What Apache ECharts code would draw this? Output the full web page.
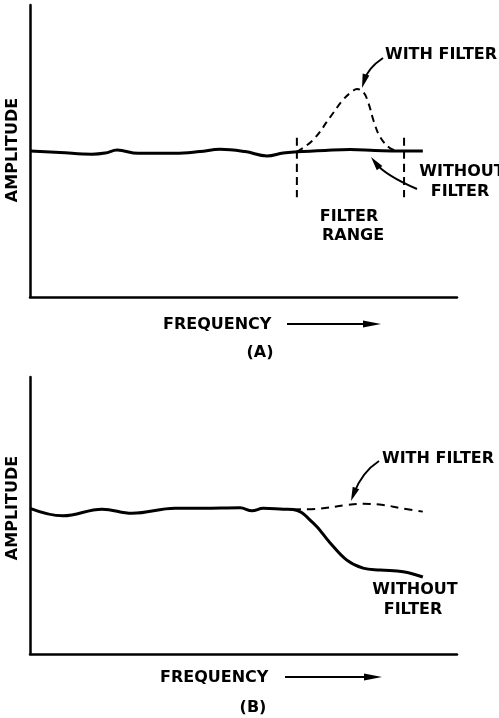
<!DOCTYPE html>
<html>
<head>
<meta charset="utf-8">
<script src="https://cdn.jsdelivr.net/npm/echarts@6/dist/echarts.min.js"></script>
<style>
  html, body { margin: 0; background: #fff; }
  #chart { width: 499px; height: 718px; }
</style>
</head>
<body>
<div id="chart"></div>
<script>
// panel (A) - frequency / amplitude in arbitrary units (0..100)
const freqA_without = [0, 7, 14.5, 17.6, 20.4, 25.3, 34, 39.8, 44.5, 50.4, 55.5, 59.3, 62.5, 69.1, 74.9, 80.8, 86.7, 92]
const ampA_without = [50, 49.5, 48.9, 49.3, 50.3, 49.2, 49.2, 49.8, 50.6, 49.8, 48.3, 49.3, 49.7, 50.2, 50.5, 50.2, 50, 50]
const freqA_with = [62.5, 66.3, 70.3, 73.3, 75.2, 76.6, 78.1, 79.3, 80.5, 82, 84.3, 86.7]
const ampA_with = [49.7, 53.8, 61.6, 67.5, 70.1, 71.2, 70.1, 66.2, 60.2, 54.8, 51, 50]
const filterRange = [62.5, 87.6]
const filterRangeAmp = [54.5, 34.2]

// panel (B)
const freqB_without = [0, 7.7, 16.9, 23.9, 34, 40.5, 49.2, 52, 54.6, 59.3, 61.6, 66.3, 70.3, 74.2, 78, 82, 87.4, 92]
const ampB_without = [52.6, 49.9, 52.3, 50.8, 52.6, 52.6, 52.8, 51.7, 52.6, 52.3, 52.2, 47.3, 40.1, 33.9, 31, 30.3, 29.7, 27.8]
const freqB_with = [61.6, 67.9, 74.2, 78, 82.7, 86.7, 92]
const ampB_with = [52.2, 52.5, 53.8, 54.2, 53.8, 52.7, 51.4]

const zip = (xs, ys) => xs.map((x, i) => [x, ys[i]])

const FONT = 'bold 16px "DejaVu Sans"'
const axisStyle = { show: true, onZero: false, lineStyle: { color: '#000', width: 2.5 } }

function makeAxis(gridIndex) {
  return {
    type: 'value',
    gridIndex: gridIndex,
    min: 0,
    max: 100,
    axisLine: axisStyle,
    axisTick: { show: false },
    axisLabel: { show: false },
    splitLine: { show: false }
  }
}

function lineSeries(idx, data, dashed, width) {
  return {
    type: 'line',
    xAxisIndex: idx,
    yAxisIndex: idx,
    data: data,
    smooth: 0.4,
    showSymbol: false,
    silent: true,
    lineStyle: { color: '#000', width: width, type: dashed ? dashed : 'solid' }
  }
}

function label(text, x, y, align) {
  return {
    type: 'text',
    x: x,
    y: y,
    style: { text: text, font: FONT, fill: '#000', align: align || 'center', verticalAlign: 'middle' }
  }
}

function arrowHead(x2, y2, ang, L, W) {
  const bx = x2 - L * Math.cos(ang)
  const by = y2 - L * Math.sin(ang)
  const px = -Math.sin(ang) * W
  const py = Math.cos(ang) * W
  return {
    type: 'polygon',
    shape: { points: [[x2, y2], [bx + px, by + py], [bx - px, by - py]] },
    style: { fill: '#000' }
  }
}

function curveArrow(x1, y1, cx, cy, x2, y2) {
  const ang = Math.atan2(y2 - cy, x2 - cx)
  return [
    {
      type: 'bezierCurve',
      shape: { x1: x1, y1: y1, cpx1: cx, cpy1: cy, x2: x2 - 8 * Math.cos(ang), y2: y2 - 8 * Math.sin(ang) },
      style: { stroke: '#000', lineWidth: 2, fill: null }
    },
    arrowHead(x2, y2, ang, 14, 3.5)
  ]
}

function straightArrow(x1, x2, y) {
  return [
    { type: 'line', shape: { x1: x1, y1: y, x2: x2 - 10, y2: y }, style: { stroke: '#000', lineWidth: 1.8 } },
    arrowHead(x2, y, 0, 18, 3.5)
  ]
}

const chart = echarts.init(document.getElementById('chart'))
chart.setOption({
  backgroundColor: '#fff',
  animation: false,
  grid: [
    { left: 30, top: 5, width: 427, height: 292 },
    { left: 30, top: 377, width: 427, height: 277 }
  ],
  xAxis: [makeAxis(0), makeAxis(1)],
  yAxis: [makeAxis(0), makeAxis(1)],
  series: [
    lineSeries(0, zip(freqA_without, ampA_without), null, 3),
    lineSeries(0, zip(freqA_with, ampA_with), [7, 5], 2),
    lineSeries(0, zip([filterRange[0], filterRange[0]], filterRangeAmp), [8, 5], 2),
    lineSeries(0, zip([filterRange[1], filterRange[1]], filterRangeAmp), [8, 5], 2),
    lineSeries(1, zip(freqB_without, ampB_without), null, 3),
    lineSeries(1, zip(freqB_with, ampB_with), [8, 6], 2)
  ],
  graphic: [
    // (A)
    Object.assign(label('AMPLITUDE', 13, 150), { rotation: Math.PI / 2 }),
    label('WITH FILTER', 385, 55, 'left'),
    label('WITHOUT', 462, 172),
    label('FILTER', 460, 192),
    label('FILTER', 349, 217),
    label('RANGE', 353, 236),
    label('FREQUENCY', 163, 325, 'left'),
    label('(A)', 260, 353),
    ...curveArrow(383, 58, 368, 68, 362, 88),
    ...curveArrow(417, 189, 385, 175, 371, 157),
    ...straightArrow(287, 381, 324),
    // (B)
    Object.assign(label('AMPLITUDE', 13, 508), { rotation: Math.PI / 2 }),
    label('WITH FILTER', 382, 459, 'left'),
    label('WITHOUT', 415, 590),
    label('FILTER', 413, 610),
    label('FREQUENCY', 160, 678, 'left'),
    label('(B)', 253, 708),
    ...curveArrow(379, 461, 362, 472, 351, 501),
    ...straightArrow(285, 382, 677)
  ]
})
</script>
</body>
</html>
